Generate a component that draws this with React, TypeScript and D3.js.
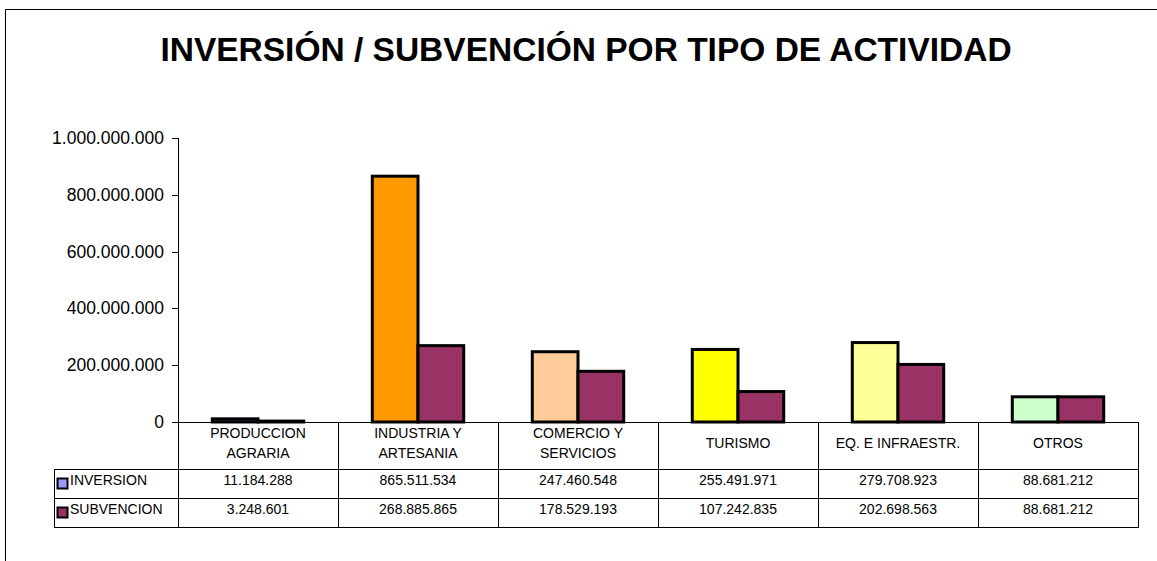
import React from "react";
import * as d3 from "d3";

const categories = [
  ["PRODUCCION", "AGRARIA"],
  ["INDUSTRIA Y", "ARTESANIA"],
  ["COMERCIO Y", "SERVICIOS"],
  ["TURISMO"],
  ["EQ. E INFRAESTR."],
  ["OTROS"],
];
const inversion = [11184288, 865511534, 247460548, 255491971, 279708923, 88681212];
const subvencion = [3248601, 268885865, 178529193, 107242835, 202698563, 88681212];
const inversionColors = ["#9999FF", "#FF9900", "#FFCC99", "#FFFF00", "#FFFF99", "#CCFFCC"];
const subvencionColor = "#993366";
const seriesNames = ["INVERSION", "SUBVENCION"];
const yTicks = [0, 200000000, 400000000, 600000000, 800000000, 1000000000];

const fmt = (v: number) => String(v).replace(/\B(?=(\d{3})+(?!\d))/g, ".");

export default function App() {
  const W = 1157, H = 561;
  const left = 178, right = 1138, top = 138, bottom = 422;
  const x = d3.scaleBand<number>().domain(d3.range(categories.length)).range([left, right]).paddingInner(0).paddingOuter(0);
  const y = d3.scaleLinear().domain([0, 1000000000]).range([bottom, top]);
  const bw = x.bandwidth();
  const barW = bw / 3.5;
  const off = barW * 0.75;
  const font = "Arial, 'Liberation Sans', sans-serif";
  const row1 = 469, row2 = 498, row3 = 527, tableLeft = 54;
  const line = "#000";

  return (
    <svg width={W} height={H} style={{ position: "absolute", left: 0, top: 0, background: "#fff" }} fontFamily={font}>
      <rect x={0} y={0} width={W} height={H} fill="#fff" />
      <path d={`M5.5,${H} V9.5 H${W}`} fill="none" stroke="#000" strokeWidth={1} />
      <text x={586} y={61} textAnchor="middle" fontSize={33.5} fontWeight="bold" fill="#000">
        INVERSIÓN / SUBVENCIÓN POR TIPO DE ACTIVIDAD
      </text>
      {/* y axis */}
      <line x1={left + 0.5} x2={left + 0.5} y1={top} y2={row3} stroke={line} />
      {yTicks.map((t) => (
        <g key={t}>
          <line x1={172} x2={left} y1={Math.round(y(t)) + 0.5} y2={Math.round(y(t)) + 0.5} stroke={line} />
          <text x={164} y={y(t) + 6} textAnchor="end" fontSize={17.5} fill="#000">
            {fmt(t)}
          </text>
        </g>
      ))}
      {/* bars */}
      {categories.map((_, i) => {
        const x0 = (x(i) as number) + off;
        return (
          <g key={i}>
            <rect x={x0} y={y(inversion[i])} width={barW} height={bottom - y(inversion[i])} fill={inversionColors[i]} stroke="#000" strokeWidth={3} />
            <rect x={x0 + barW} y={y(subvencion[i])} width={barW} height={bottom - y(subvencion[i])} fill={subvencionColor} stroke="#000" strokeWidth={3} />
          </g>
        );
      })}
      {/* table lines */}
      <line x1={left} x2={right} y1={bottom + 0.5} y2={bottom + 0.5} stroke={line} />
      {[row1, row2, row3].map((r) => (
        <line key={r} x1={tableLeft} x2={right + 0.5} y1={r + 0.5} y2={r + 0.5} stroke={line} />
      ))}
      <line x1={tableLeft + 0.5} x2={tableLeft + 0.5} y1={row1} y2={row3 + 1} stroke={line} />
      {categories.map((_, i) => {
        const xe = Math.round((x(i) as number) + bw) + 0.5;
        return <line key={i} x1={xe} x2={xe} y1={bottom} y2={row3 + 1} stroke={line} />;
      })}
      {/* category labels */}
      {categories.map((lines, i) => {
        const cx = (x(i) as number) + bw / 2;
        return (
          <text key={i} textAnchor="middle" fontSize={14} fill="#000">
            {lines.length === 2 ? (
              <>
                <tspan x={cx} y={438}>{lines[0]}</tspan>
                <tspan x={cx} y={458}>{lines[1]}</tspan>
              </>
            ) : (
              <tspan x={cx} y={448}>{lines[0]}</tspan>
            )}
          </text>
        );
      })}
      {/* rows */}
      {[inversion, subvencion].map((vals, r) => {
        const base = r === 0 ? 485 : 514;
        const ky = r === 0 ? 478 : 507;
        return (
          <g key={r}>
            <rect x={57.5} y={ky + 0.5} width={10} height={10} fill={r === 0 ? inversionColors[0] : subvencionColor} stroke="#000" strokeWidth={2} />
            <text x={70} y={base} fontSize={14} fill="#000">{seriesNames[r]}</text>
            {vals.map((v, i) => (
              <text key={i} x={(x(i) as number) + bw / 2} y={base} textAnchor="middle" fontSize={14} fill="#000">
                {fmt(v)}
              </text>
            ))}
          </g>
        );
      })}
    </svg>
  );
}
